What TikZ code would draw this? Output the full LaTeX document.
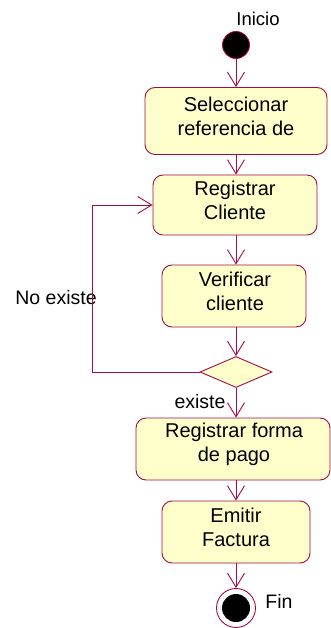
\documentclass[tikz,border=0pt]{standalone}
\usepackage{fontspec}
\setmainfont{Liberation Sans}
\usetikzlibrary{arrows.meta,shapes.geometric}
\definecolor{umlline}{RGB}{165,10,70}
\definecolor{umlfill}{RGB}{255,255,204}
\tikzset{
  act/.style={draw=umlline,fill=umlfill,rounded corners=10pt,inner sep=0pt,line width=0.9pt},
  acttext/.style={align=center,inner sep=0pt,font=\fontsize{20}{24}\selectfont},
  flow/.style={draw=umlline,line width=0.9pt,-{Straight Barb[length=14pt,width=17pt]}},
  lbl/.style={font=\fontsize{19.5}{20}\selectfont,inner sep=0pt}
}
\begin{document}
\begin{tikzpicture}[x=1pt,y=-1pt]
      \useasboundingbox (0,0) rectangle (330,628);
      \node[circle,fill=black,draw=umlline,line width=0.9pt,minimum size=27pt,inner sep=0pt] (ini) at (236,45) {};
      \node[lbl,font=\fontsize{18.5}{20}\selectfont] (inil) at (258,19) {Inicio};
      \node[act,minimum width=182pt,minimum height=67pt] (sel) at (236,121) {};
      \node[acttext] (selt) at (236,116) {Seleccionar\\referencia de};
      \node[act,minimum width=164pt,minimum height=60pt] (reg) at (235,205) {};
      \node[acttext] (regt) at (235,200) {Registrar\\Cliente};
      \node[act,minimum width=144pt,minimum height=62pt] (ver) at (234,296) {};
      \node[acttext] (vert) at (235,291) {Verificar\\cliente};
      \node[diamond,draw=umlline,fill=umlfill,line width=0.9pt,minimum width=72pt,minimum height=31pt,inner sep=0pt] (dec) at (236,372) {};
      \node[act,minimum width=194pt,minimum height=62pt] (pago) at (233,449) {};
      \node[acttext] (pagot) at (234,444) {Registrar forma\\de pago};
      \node[act,minimum width=148pt,minimum height=62pt] (fact) at (236,532) {};
      \node[acttext] (factt) at (236,527) {Emitir\\Factura};
      \node[circle,draw=umlline,line width=0.9pt,fill=white,minimum size=39pt,inner sep=0pt] (fin) at (236,608) {};
      \node[circle,fill=black,minimum size=28pt,inner sep=0pt] (finc) at (fin) {};
      \node[lbl] (finl) at (279,601) {Fin};
      \node[lbl] (noex) at (56,298) {No existe};
      \node[lbl] (ex) at (200,402) {existe};
      \coordinate (loop) at (92,374);
      \begin{scope}[flow]
        \draw (ini) to (sel);
        \draw (sel.south -| ini) to (reg.north -| ini);
        \draw (reg.south -| ini) to (ver.north -| ini);
        \draw (ver.south -| ini) to (dec.north);
        \draw (dec.south) to (pago.north -| ini);
        \draw (pago.south -| ini) to (fact.north -| ini);
        \draw (fact.south -| ini) to (fin);
        \draw (dec.west) -- (dec.west -| loop) |- (reg.west);
      \end{scope}
    \end{tikzpicture}
\end{document}
